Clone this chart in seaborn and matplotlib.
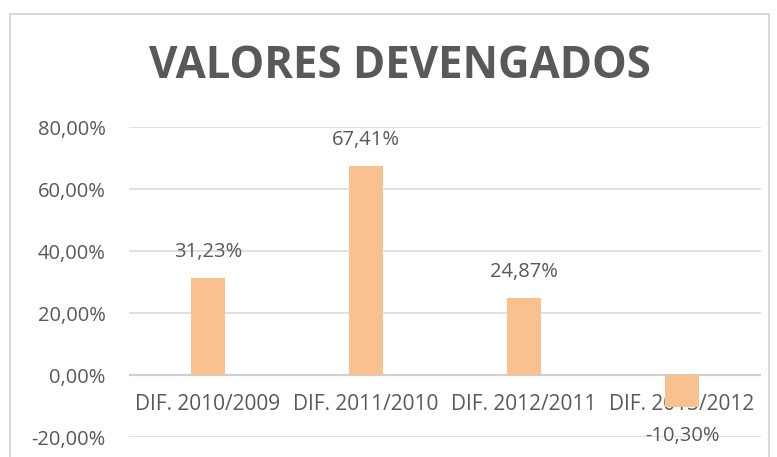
import matplotlib.pyplot as plt
import matplotlib.patches as mpatches
import seaborn as sns
import pandas as pd

categories = ["DIF. 2010/2009", "DIF. 2011/2010", "DIF. 2012/2011", "DIF. 2013/2012"]
values = [31.23, 67.41, 24.87, -10.30]
y_ticks = [-20, 0, 20, 40, 60, 80]

sns.set_style("white")
plt.rcParams['font.family'] = ['Open Sans', 'DejaVu Sans']

text_color = "#595959"
bar_color = "#F9C18F"
grid_color = "#D9D9D9"

df = pd.DataFrame({"cat": categories, "val": values})

fig = plt.figure(figsize=(7.77, 4.57), dpi=100)
ax = fig.add_axes([129 / 777, 1 - 437 / 457, 632 / 777, 310 / 457])

# chart border
fig.patches.append(mpatches.Rectangle((10 / 777, -0.05), 759 / 777, 1 - 14 / 457 + 0.05,
                                      transform=fig.transFigure, fill=False,
                                      edgecolor=grid_color, linewidth=1.5))

sns.barplot(data=df, x="cat", y="val", color=bar_color, width=0.22, ax=ax,
            saturation=1, linewidth=0, zorder=3)

ax.set_xlim(-0.5, 3.5)
ax.set_ylim(-20, 80)
ax.set_yticks(y_ticks)
ax.set_yticklabels([f"{t:.2f}%".replace(".", ",") for t in y_ticks])
for t in y_ticks:
    ax.axhline(t, color="#D0D0D0" if t == 0 else grid_color,
               linewidth=1.6 if t == 0 else 1.1, zorder=1)

for s in ["top", "right", "left", "bottom"]:
    ax.spines[s].set_visible(False)
ax.spines["bottom"].set_position(("data", 0))

ax.tick_params(axis="y", length=0, pad=17, labelsize=14.5, labelcolor=text_color)
ax.tick_params(axis="x", length=0, pad=14, labelsize=15, labelcolor=text_color)
ax.set_xlabel("")
ax.set_ylabel("")

for i, v in enumerate(values):
    label = f"{v:.2f}%".replace(".", ",")
    off = 19 if v >= 0 else -21
    ax.annotate(label, (i, v), xytext=(0, off), textcoords="offset points",
                ha="center", va="center", fontsize=14.5, color=text_color,
                annotation_clip=False)

fig.text(400 / 777, 1 - 67 / 457, "VALORES DEVENGADOS", ha="center", va="center",
         fontsize=31.5, fontweight="bold", color=text_color)

plt.savefig("out.png", dpi=100)
plt.close()
